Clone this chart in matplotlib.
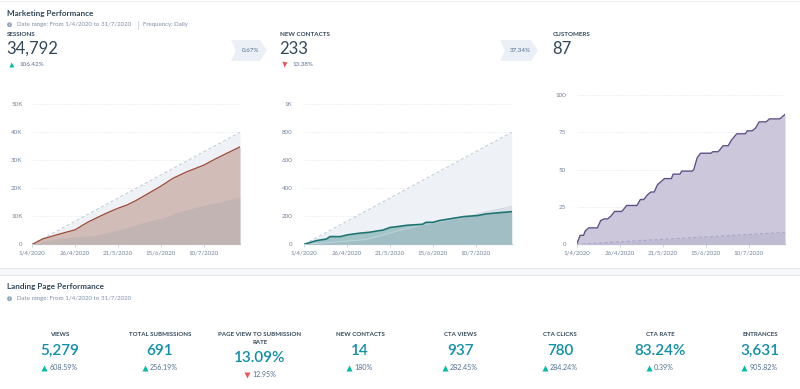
import matplotlib
matplotlib.use('Agg')
import matplotlib.pyplot as plt
from matplotlib.patches import Rectangle, Polygon, Circle
import pandas as pd

plt.rcParams['font.family'] = ['Lato', 'DejaVu Sans']

# ---------------- data ----------------
START = pd.Timestamp('2020-04-01')
END = pd.Timestamp('2020-07-31')
tick_dates = ['2020-04-01', '2020-04-26', '2020-05-21', '2020-06-15', '2020-07-10']
tick_labels = ['1/4/2020', '26/4/2020', '21/5/2020', '15/6/2020', '10/7/2020']

# Sessions (cumulative, thousands), day offset from 1/4/2020
sessions_days = [0, 6, 16, 25, 32, 40, 45, 50, 55, 60, 66, 75, 82, 90, 100, 107, 115, 121]
sessions_k = [0, 1.9, 3.7, 5.2, 7.8, 10.2, 11.6, 12.9, 14.0, 15.5, 17.6, 20.8, 23.6, 25.9, 28.3, 30.6, 33.0, 34.8]
sessions_prev_days = [0, 6, 14, 25, 36, 50, 63, 75, 86, 100, 110, 121]
sessions_prev_k = [0, 1.0, 2.0, 2.7, 3.1, 5.1, 7.5, 9.3, 11.7, 14.0, 15.2, 17.0]
sessions_goal_days = [0, 121]
sessions_goal_k = [0, 40]
sessions_yticks = [0, 10, 20, 30, 40, 50]
sessions_ylabels = ['0', '10K', '20K', '30K', '40K', '50K']

# New contacts (cumulative)
contacts_days = [0, 7, 13, 15, 21, 25, 32, 38, 46, 50, 54, 60, 69, 71, 75, 79, 87, 93, 101, 106, 114, 121]
contacts = [0, 26, 38, 55, 55, 67, 79, 86, 102, 120, 126, 136, 143, 157, 157, 170, 186, 198, 205, 217, 226, 233]
contacts_prev_days = [0, 10, 20, 36, 46, 56, 66, 79, 95, 106, 114, 121]
contacts_prev = [0, 8, 18, 34, 67, 100, 130, 162, 198, 232, 252, 270]
contacts_goal_days = [0, 121]
contacts_goal = [0, 800]
contacts_yticks = [0, 200, 400, 600, 800, 1000]
contacts_ylabels = ['0', '200', '400', '600', '800', '1K']

# Customers (cumulative)
customers_days = [0, 2, 4, 5, 7, 12, 14, 16, 18, 20, 22, 26, 27, 29, 35, 37, 39, 41, 43, 45, 47,
                  48, 51, 55, 56, 60, 61, 67, 68, 70, 72, 78, 79, 82, 83, 85, 88, 90, 93, 98,
                  99, 102, 104, 106, 110, 112, 118, 121]
customers = [0, 6, 6, 9, 11, 11, 16, 17, 17, 19, 22, 22, 23, 26, 26, 30, 30, 33, 35, 35, 40,
             41, 44, 44, 47, 47, 49, 49, 50, 58, 61, 61, 62, 62, 63, 66, 66, 70, 74, 74,
             76, 76, 78, 82, 82, 84, 84, 87]
customers_goal_days = [0, 121]
customers_goal = [0, 8]
customers_yticks = [0, 25, 50, 75, 100]
customers_ylabels = ['0', '25', '50', '75', '100']

top_labels = ['SESSIONS', 'NEW CONTACTS', 'CUSTOMERS']
top_values = ['34,792', '233', '87']
top_changes = ['106.42%', '13.38%', None]
top_up = [True, False, None]
badges = ['0.67%', '37.34%']

kpi_labels = ['VIEWS', 'TOTAL SUBMISSIONS', 'PAGE VIEW TO SUBMISSION\nRATE', 'NEW CONTACTS',
              'CTA VIEWS', 'CTA CLICKS', 'CTA RATE', 'ENTRANCES']
kpi_values = ['5,279', '691', '13.09%', '14', '937', '780', '83.24%', '3,631']
kpi_changes = ['608.59%', '256.19%', '12.95%', '180%', '282.45%', '284.24%', '0.39%', '905.82%']
kpi_up = [True, True, False, True, True, True, True, True]

# ---------------- style ----------------
DARK = '#33475b'
MUTED = '#7c8ea6'
TICK = '#71839b'
GREEN = '#00bda5'
RED = '#f2545b'
BLUE = '#0f8fa8'

W, H = 800, 389
fig = plt.figure(figsize=(8, 3.89), dpi=100)
bg = fig.add_axes([0, 0, 1, 1], zorder=0)
bg.set_xlim(0, W)
bg.set_ylim(H, 0)
bg.axis('off')

bg.add_patch(Rectangle((0, 0), W, H, fc='white', ec='none'))
bg.add_patch(Rectangle((0, 268), W, 7, fc='#f5f8fa', ec='none'))
bg.plot([0, W], [268, 268], color='#e3e8ee', lw=0.8)
bg.plot([0, W], [275, 275], color='#e3e8ee', lw=0.8)
bg.plot([0, W], [0.6, 0.6], color='#eef1f5', lw=0.8)


def info_line(y, text, extra=None):
    bg.add_patch(Circle((9.5, y), 2.4, fc='#8fa3bb', ec='none'))
    bg.text(9.5, y + 0.2, 'i', fontsize=2.6, color='white', ha='center', va='center', fontweight='bold')
    bg.text(17, y, text, fontsize=4.45, color=MUTED, ha='left', va='center')
    if extra:
        bg.plot([138.2, 138.2], [21, 28.5], color='#cbd6e2', lw=0.6)
        bg.text(143, y, extra, fontsize=4.45, color=MUTED, ha='left', va='center')


bg.text(7, 13.7, 'Marketing Performance', fontsize=5.9, color=DARK, fontweight='bold', ha='left', va='center')
info_line(24.7, 'Date range: From 1/4/2020 to 31/7/2020', 'Frequency: Daily')

top_x = [7, 280, 552.7]
for x, lab, val, ch, up in zip(top_x, top_labels, top_values, top_changes, top_up):
    bg.text(x, 34.8, lab, fontsize=4.5, color=DARK, fontweight='bold', ha='left', va='center')
    bg.text(x - 0.5, 48.5, val, fontsize=12, color=DARK, ha='left', va='center')
    if ch is not None:
        bg.plot([x + 3.7], [64.2], marker='^' if up else 'v', ms=3.6, color=GREEN if up else RED, mec='none')
        bg.text(x + 12.5, 64, ch, fontsize=4.5, color='#516f90', ha='left', va='center')

badge_x = [231, 500]
for bx, btxt in zip(badge_x, badges):
    w = 36 if len(btxt) < 6 else 38
    pts = [(bx, 40), (bx + w - 7, 40), (bx + w, 50.5), (bx + w - 7, 61), (bx, 61), (bx + 5, 50.5)]
    bg.add_patch(Polygon(pts, closed=True, fc='#eaf0f6', ec='none'))
    bg.text(bx + w / 2 + 1.5, 50.5, btxt, fontsize=4.5, color='#516f90', ha='center', va='center')

bg.text(7, 286.7, 'Landing Page Performance', fontsize=5.9, color=DARK, fontweight='bold', ha='left', va='center')
info_line(298.7, 'Date range: From 1/4/2020 to 31/7/2020')

renderer = fig.canvas.get_renderer()
for i, (lab, val, ch, up) in enumerate(zip(kpi_labels, kpi_values, kpi_changes, kpi_up)):
    cx = 60 + 100 * i
    lines = lab.split('\n')
    for j, ln in enumerate(lines):
        bg.text(cx, 334.8 + 7.2 * j, ln, fontsize=4.4, color=DARK, fontweight='bold', ha='center', va='center')
    shift = 7 * (len(lines) - 1)
    bg.text(cx, 351.3 + shift, val, fontsize=11, color=BLUE, fontweight='semibold', ha='center', va='center')
    t = bg.text(0, 367.3 + shift, ch, fontsize=5.1, color='#516f90', ha='left', va='center')
    tw = t.get_window_extent(renderer).width
    total = 8 + tw
    start = cx - total / 2
    t.set_x(start + 8)
    bg.plot([start + 2.5], [367.6 + shift], marker='^' if up else 'v', ms=3.8,
            color=GREEN if up else RED, mec='none')


def to_dates(days):
    return START + pd.to_timedelta(days, unit='D')


def make_chart(l, r, t, b, ymax, yticks, ylabels, pad):
    ax = fig.add_axes([l / W, 1 - b / H, (r - l) / W, (b - t) / H], zorder=2)
    ax.patch.set_alpha(0)
    ax.set_xlim(START, END)
    ax.set_ylim(0, ymax)
    ax.set_yticks(yticks)
    ax.set_yticklabels(ylabels)
    ax.set_xticks(pd.to_datetime(tick_dates))
    ax.set_xticklabels(tick_labels)
    for s in ['top', 'right', 'left']:
        ax.spines[s].set_visible(False)
    ax.spines['bottom'].set_color('#c5d1e0')
    ax.spines['bottom'].set_linewidth(0.9)
    ax.tick_params(axis='y', length=0, pad=pad, labelsize=4.5, labelcolor=TICK)
    ax.tick_params(axis='x', length=2.2, width=0.6, color='#c5d1e0', pad=2.0, labelsize=4.4, labelcolor=TICK)
    ax.grid(axis='y', color='#dfe5ec', lw=0.6, ls=(0, (1, 1.2)))
    ax.grid(axis='x', visible=False)
    ax.set_axisbelow(True)
    return ax


GOAL_FILL = '#eef1f6'
GOAL_LINE = '#c3cedb'

# Chart 1: sessions
ax1 = make_chart(32.3, 240, 104.3, 244.3, 50, sessions_yticks, sessions_ylabels, 7.0)
gd = to_dates(sessions_goal_days)
ax1.fill_between(gd, 0, sessions_goal_k, color=GOAL_FILL, lw=0, zorder=1)
ax1.plot(gd, sessions_goal_k, color=GOAL_LINE, lw=0.8, ls=(0, (3, 2)), zorder=2)
sd = to_dates(sessions_days)
ax1.fill_between(sd, 0, sessions_k, color='#d2bcb7', lw=0, zorder=3)
pd1 = to_dates(sessions_prev_days)
ax1.fill_between(pd1, 0, sessions_prev_k, color='#8f9bab', alpha=0.22, lw=0, zorder=4)
ax1.plot(sd, sessions_k, color='#9c4631', lw=0.9, zorder=5)

# Chart 2: new contacts
ax2 = make_chart(304.3, 511.7, 104.3, 244.3, 1000, contacts_yticks, contacts_ylabels, 8.6)
gd = to_dates(contacts_goal_days)
ax2.fill_between(gd, 0, contacts_goal, color=GOAL_FILL, lw=0, zorder=1)
ax2.plot(gd, contacts_goal, color=GOAL_LINE, lw=0.8, ls=(0, (3, 2)), zorder=2)
cd = to_dates(contacts_days)
ax2.fill_between(cd, 0, contacts, color='#a2c5c8', lw=0, zorder=3)
pd2 = to_dates(contacts_prev_days)
ax2.fill_between(pd2, 0, contacts_prev, color='#9aa6b5', alpha=0.22, lw=0, zorder=4)
ax2.plot(pd2, contacts_prev, color='#c9d3de', lw=0.6, zorder=4)
ax2.plot(cd, contacts, color='#1e7473', lw=1.2, zorder=5)

# Chart 3: customers
ax3 = make_chart(576.7, 785, 95, 244.3, 100, customers_yticks, customers_ylabels, 7.5)
ax3.spines['bottom'].set_color('#b3bdd6')
cud = to_dates(customers_days)
ax3.fill_between(cud, 0, customers, color='#cdc7dc', lw=0, zorder=3)
ax3.plot(cud, customers, color='#5e4f86', lw=1.0, zorder=5)
gd = to_dates(customers_goal_days)
ax3.fill_between(gd, 0, customers_goal, color='#8e93b0', alpha=0.22, lw=0, zorder=4)
ax3.plot(gd, customers_goal, color='#a9a6c6', lw=0.8, ls=(0, (3, 2)), zorder=4)

fig.savefig('out.png', dpi=100)
